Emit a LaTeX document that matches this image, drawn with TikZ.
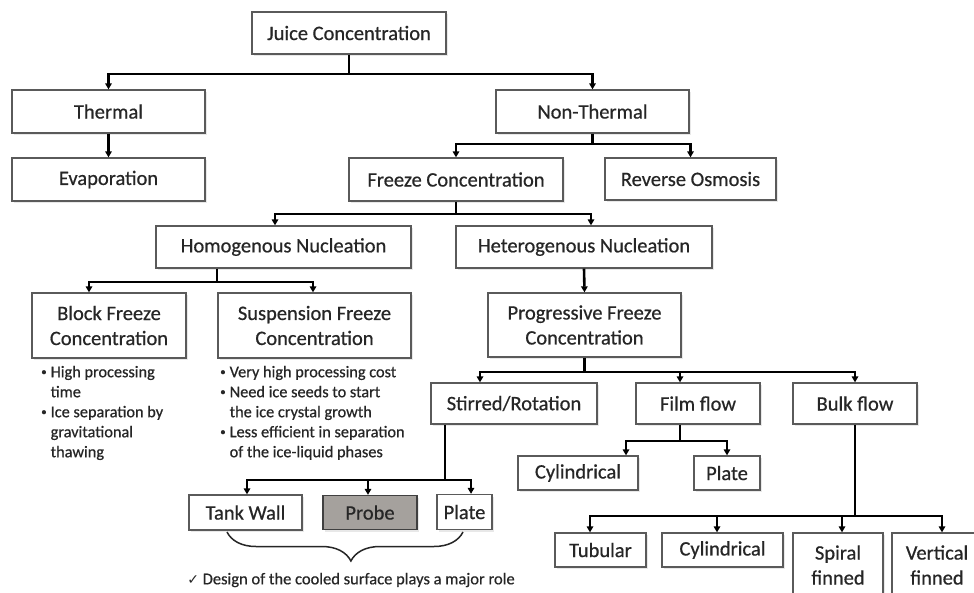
\documentclass[tikz,border=0pt]{standalone}
\usepackage{fontspec}
\setmainfont{Carlito}[BoldFont=Carlito, BoldFeatures={FakeBold=0.6}]
\newfontfamily\symfont{DejaVu Sans}
\usetikzlibrary{arrows.meta,decorations.pathreplacing,shadows}
\definecolor{txt}{HTML}{262626}
\definecolor{bord}{HTML}{5A5A5A}
\definecolor{probefill}{HTML}{A5A19D}
\newcommand{\smbul}{\raisebox{0.25ex}{\fontsize{11}{11}\selectfont\textbullet}}
\tikzset{
  box/.style={draw=bord, line width=1.3pt, fill=white, text=txt, inner sep=0pt,
    align=center, font=\fontsize{20.5}{25}\selectfont\bfseries,
    drop shadow={opacity=0.18, shadow xshift=2pt, shadow yshift=-2pt}},
  ln/.style={line width=2.6pt, draw=black},
  arr/.style={ln, -{Triangle[length=6pt,width=6.5pt]}},
  note/.style={text=txt, inner sep=0pt, anchor=north west, font=\fontsize{16.3}{20}\selectfont\bfseries}
}
\begin{document}
\begin{tikzpicture}[x=1pt,y=-1pt]
\useasboundingbox (0,0) rectangle (974,592);
\fill[white] (0,0) rectangle (974,592);
\begin{scope}
\clip (0,0) rectangle (974,592);
% boxes
\node[box, minimum width=194, minimum height=42] (juice) at (349,33) {Juice Concentration};
\node[box, minimum width=193, minimum height=43] (thermal) at (108.5,111.5) {Thermal};
\node[box, minimum width=193, minimum height=43] (evap) at (108.5,179.5) {Evaporation};
\node[box, minimum width=193, minimum height=43] (nonthermal) at (592.5,111.5) {Non-Thermal};
\node[box, minimum width=214, minimum height=43] (freeze) at (456,179.5) {Freeze Concentration};
\node[box, minimum width=171, minimum height=42] (reverse) at (690.5,179) {Reverse Osmosis};
\node[box, minimum width=255, minimum height=42] (homo) at (283.5,247) {Homogenous Nucleation};
\node[box, minimum width=256, minimum height=42] (hetero) at (584,247) {Heterogenous Nucleation};
\node[box, minimum width=154, minimum height=65] (block) at (109,325.5) {Block Freeze\\Concentration};
\node[box, minimum width=193, minimum height=65] (susp) at (314.5,325.5) {Suspension Freeze\\Concentration};
\node[box, minimum width=193, minimum height=64] (prog) at (584.5,325) {Progressive Freeze\\Concentration};
\node[box, minimum width=166, minimum height=41] (stirred) at (514,403.5) {Stirred/Rotation};
\node[box, minimum width=124, minimum height=41] (film) at (698,403.5) {Film flow};
\node[box, minimum width=124, minimum height=41] (bulk) at (855,403.5) {Bulk flow};
\node[box, minimum width=120, minimum height=34] (cylA) at (578,473) {Cylindrical};
\node[box, minimum width=66, minimum height=34] (plateA) at (727,473) {Plate};
\node[box, minimum width=113, minimum height=35] (tank) at (245.5,512.5) {Tank Wall};
\node[box, minimum width=94, minimum height=34, fill=probefill, draw=black!75] (probe) at (370,512.5) {Probe};
\node[box, minimum width=55, minimum height=35] (plateB) at (464.5,512) {Plate};
\node[box, minimum width=91, minimum height=34] (tubular) at (600.5,550) {Tubular};
\node[box, minimum width=121, minimum height=34] (cylB) at (722.5,550) {Cylindrical};
\node[box, minimum width=90, minimum height=64] (spiral) at (838,565) {Spiral\\finned};
\node[box, minimum width=90, minimum height=64] (vertical) at (937,565) {Vertical\\finned};

% bus rows
\coordinate (r1) at (0,74);
\coordinate (r2) at (0,144);
\coordinate (r3) at (0,214);
\coordinate (r4) at (0,282);
\coordinate (r5) at (0,372);
\coordinate (r6) at (0,441);
\coordinate (r7) at (0,480);
\coordinate (r8) at (0,516);

% off-centre attachment points
\coordinate (homoIn) at ([xshift=-8.5pt]homo.north);
\coordinate (heteroIn) at ([xshift=7pt]hetero.north);
\coordinate (homoOut) at ([xshift=-66.5pt]homo.south);
\coordinate (blockIn) at ([xshift=-20pt]block.north);
\coordinate (suspIn) at ([xshift=-1.5pt]susp.north);
\coordinate (stirIn) at ([xshift=-34pt]stirred.north);
\coordinate (filmIn) at ([xshift=-18pt]film.north);
\coordinate (filmOut) at ([xshift=-18pt]film.south);
\coordinate (cylAIn) at ([xshift=48pt]cylA.north);
\coordinate (stirOut) at ([xshift=-69pt]stirred.south);
\coordinate (tankIn) at ([xshift=1.5pt]tank.north);
\coordinate (probeIn) at ([xshift=-2pt]probe.north);
\coordinate (plateBIn) at ([xshift=6.5pt]plateB.north);
\coordinate (tubIn) at ([xshift=-10.5pt]tubular.north);
\coordinate (cylBIn) at ([xshift=-5.5pt]cylB.north);
\coordinate (spiralIn) at ([xshift=4pt]spiral.north);
\coordinate (vertIn) at ([xshift=5pt]vertical.north);

% connectors
\draw[arr] (juice.south) -- (juice.south |- r1) -| (thermal.north);
\draw[arr] (juice.south |- r1) -| (nonthermal.north);
\draw[arr] (thermal.south) -- (evap.north);

\draw[arr] (nonthermal.south) -- (nonthermal.south |- r2) -| (freeze.north);
\draw[arr] (nonthermal.south |- r2) -| (reverse.north);

\draw[arr] (freeze.south) -- (freeze.south |- r3) -| (homoIn);
\draw[arr] (freeze.south |- r3) -| (heteroIn);

\draw[arr] (homoOut) -- (homoOut |- r4) -| (blockIn);
\draw[arr] (homoOut |- r4) -| (suspIn);

\draw[arr] (hetero.south) -- (prog.north);

\draw[arr] (prog.south) -- (prog.south |- r5) -| (stirIn);
\draw[arr] (prog.south |- r5) -| (filmIn);
\draw[arr] (prog.south |- r5) -| (bulk.north);

\draw[arr] (filmOut) -- (filmOut |- r6) -| (cylAIn);
\draw[arr] (filmOut |- r6) -| (plateA.north);

\draw[arr] (stirOut) -- (stirOut |- r7) -| (tankIn);
\draw[arr] (stirOut |- r7) -- (probeIn |- r7) -- (probeIn);
\draw[arr] (stirOut |- r7) -| (plateBIn);

\draw[arr] (bulk.south) -- (bulk.south |- r8) -| (tubIn);
\draw[arr] (bulk.south |- r8) -- (cylBIn |- r8) -- (cylBIn);
\draw[arr] (bulk.south |- r8) -- (spiralIn |- r8) -- (spiralIn);
\draw[arr] (bulk.south |- r8) -| (vertIn);

% notes
\node[note] (blocknote) at (41,363) {\begin{tabular}{@{}l@{\hspace{4pt}}l@{}}
\smbul & High processing\\
 & time\\
\smbul & Ice separation by\\
 & gravitational\\
 & thawing
\end{tabular}};
\node[note] (suspnote) at (220,363) {\begin{tabular}{@{}l@{\hspace{4pt}}l@{}}
\smbul & Very high processing cost\\
\smbul & Need ice seeds to start\\
 & the ice crystal growth\\
\smbul & Less efficient in separation\\
 & of the ice-liquid phases
\end{tabular}};

% brace
\coordinate (brL) at (227,532);
\coordinate (brR) at (463,532);
\draw[draw=txt, line width=1.5pt, decorate,
  decoration={brace, mirror, amplitude=29pt, aspect=0.525}] (brL) -- (brR);
\node[text=txt, inner sep=0pt, font=\fontsize{16.5}{19}\selectfont\bfseries] (design) at (351,580)
  {{\symfont\fontsize{14}{16}\selectfont ✓}\ Design of the cooled surface plays a major role};
\end{scope}
\end{tikzpicture}
\end{document}
